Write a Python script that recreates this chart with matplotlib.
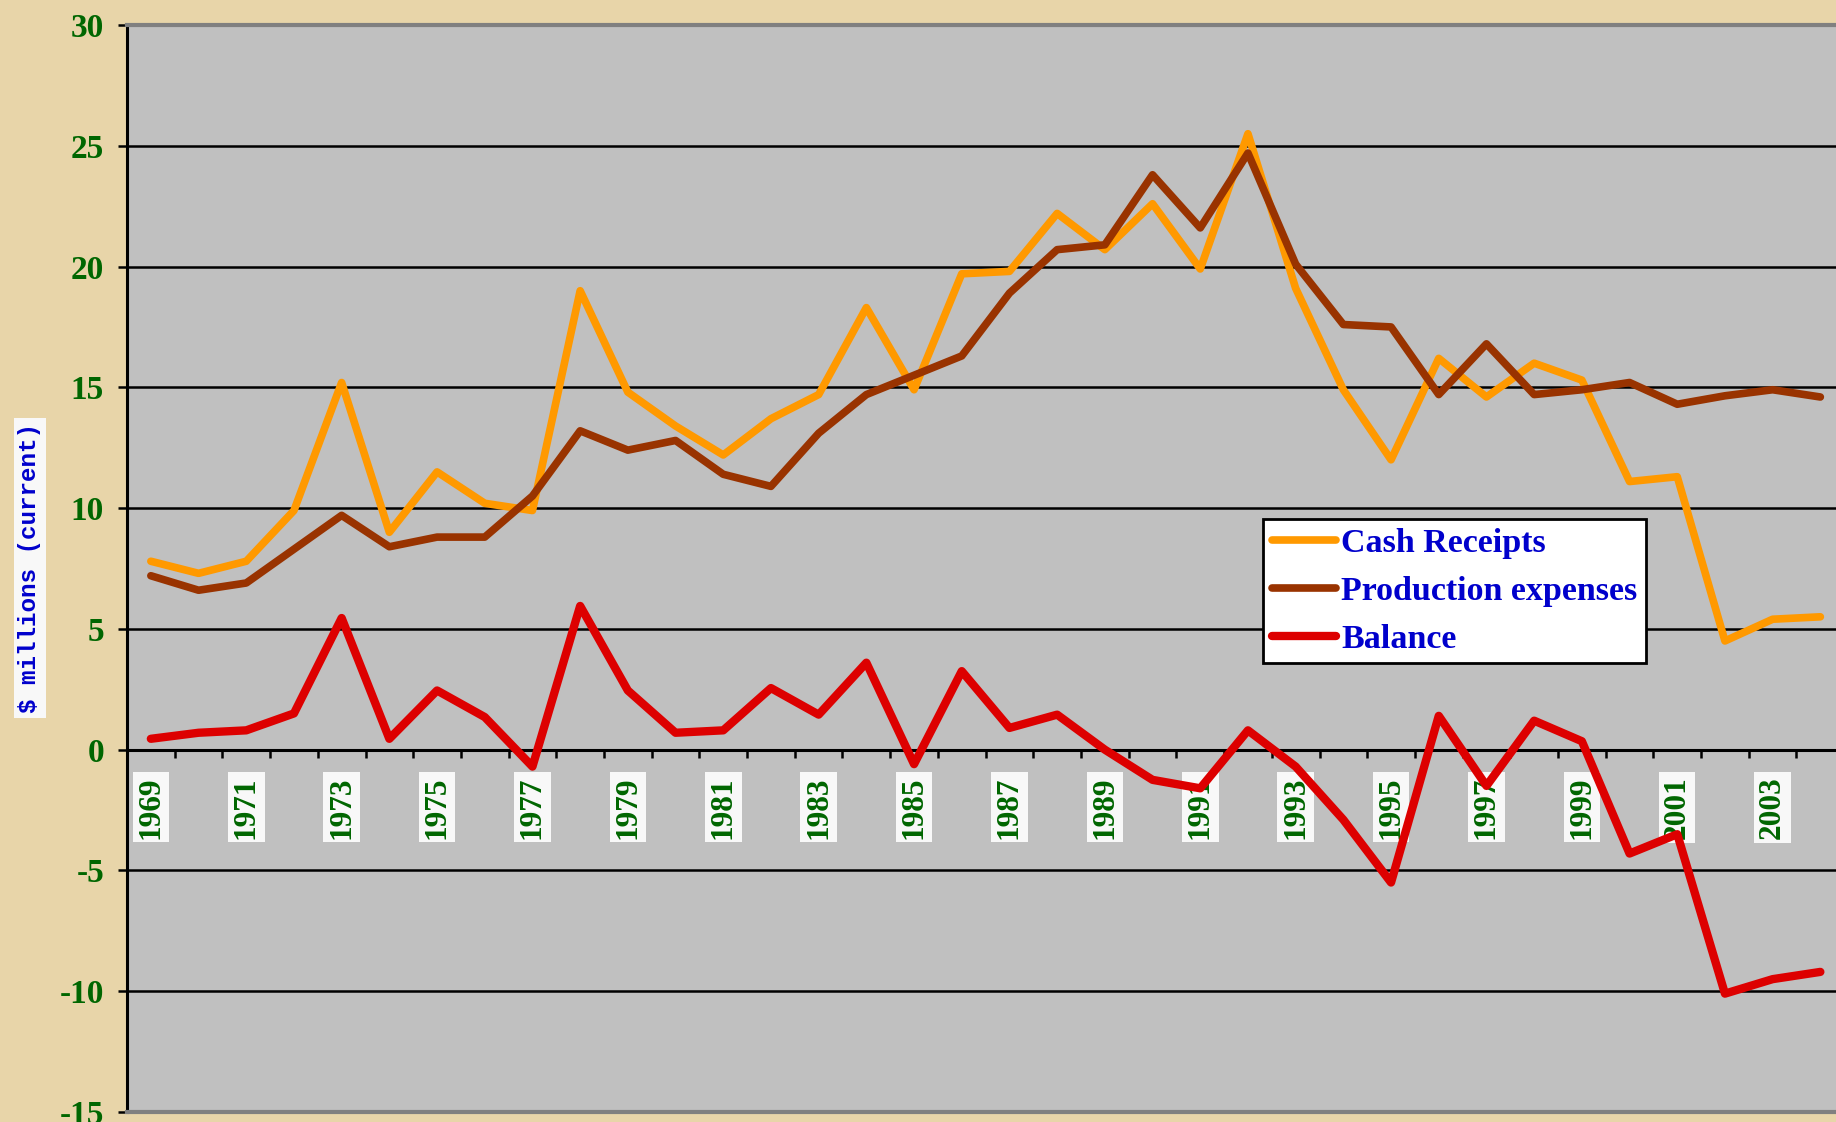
import matplotlib
import numpy as np

matplotlib.use("Agg")
import matplotlib.pyplot as plt  # noqa: E402
from matplotlib.lines import Line2D  # noqa: E402

# dados ($ milhões, valores correntes)
years = list(range(1969, 2005))
cash_receipts = [
    7.8, 7.3, 7.8, 9.9, 15.2, 9.0, 11.5, 10.2, 9.9, 19.0,
    14.8, 13.4, 12.2, 13.7, 14.7, 18.3, 14.9, 19.7, 19.8, 22.2,
    20.7, 22.6, 19.9, 25.5, 19.1, 14.9, 12.0, 16.2, 14.6, 16.0,
    15.3, 11.1, 11.3, 4.5, 5.4, 5.5,
]
production_expenses = [
    7.2, 6.6, 6.9, 8.3, 9.7, 8.4, 8.8, 8.8, 10.5, 13.2,
    12.4, 12.8, 11.4, 10.9, 13.1, 14.7, 15.5, 16.3, 18.9, 20.7,
    20.9, 23.8, 21.6, 24.7, 20.1, 17.6, 17.5, 14.7, 16.8, 14.7,
    14.9, 15.2, 14.3, 14.65, 14.9, 14.6,
]
balance = [
    0.45, 0.7, 0.8, 1.5, 5.45, 0.45, 2.45, 1.35, -0.7, 5.95,
    2.45, 0.7, 0.8, 2.55, 1.45, 3.6, -0.6, 3.25, 0.9, 1.45,
    0.0, -1.25, -1.6, 0.8, -0.7, -2.9, -5.5, 1.4, -1.5, 1.2,
    0.35, -4.3, -3.5, -10.1, -9.5, -9.2,
]
series_names = ["Cash Receipts", "Production expenses", "Balance"]
series_colors = ["#FF9900", "#993300", "#DD0000"]
y_ticks = list(range(-15, 35, 5))

BG = "#E8D5A9"
GREEN = "#006600"
BLUE = "#0000CC"
SERIF = "Liberation Serif"

fig = plt.figure(figsize=(18.36, 11.22), dpi=100, facecolor=BG)
n = len(years)
ax = fig.add_axes([127 / 1836, 10 / 1122, n * 47.7 / 1836, 1087 / 1122])
ax.set_facecolor("#C0C0C0")

x = np.arange(n) + 0.5
linhas = []
for valores, cor, lw in zip(
    [cash_receipts, production_expenses, balance], series_colors, [5.5, 5.5, 6.0]
):
    (ln,) = ax.plot(x, valores, color=cor, lw=lw, solid_joinstyle="round",
                    solid_capstyle="round", zorder=3)
    linhas.append(ln)

ax.set_xlim(0, n)
ax.set_ylim(-15, 30)

# eixo y
ax.set_yticks(y_ticks)
ax.set_yticklabels([str(v) for v in y_ticks], fontfamily=SERIF, fontweight="bold",
                   fontsize=24, color=GREEN)
ax.tick_params(axis="y", direction="out", length=6.5, width=1.8, color="black", pad=10)
ax.grid(axis="y", color="black", lw=1.8, zorder=1)

# eixo x (categorias) cruzando em zero
ax.spines["bottom"].set_position(("data", 0))
ax.spines["bottom"].set_linewidth(2.2)
ax.spines["left"].set_linewidth(2.2)
ax.spines["top"].set_color("#808080")
ax.spines["top"].set_linewidth(3)
ax.spines["right"].set_visible(False)
ax.add_line(Line2D([0, 1], [0, 0], transform=ax.transAxes, color="#808080", lw=3,
                   clip_on=False, zorder=4))

ax.set_xticks(np.arange(n + 1))
ax.set_xticklabels([])
ax.tick_params(axis="x", which="major", direction="out", length=6, width=1.8, color="black")
ax.set_xticks(x[::2], minor=True)
ax.set_xticklabels([str(a) for a in years[::2]], minor=True, rotation=90,
                   fontfamily=SERIF, fontweight="bold", fontsize=22.5, color=GREEN,
                   va="top", ha="center")
ax.tick_params(axis="x", which="minor", length=0, pad=19)
for lbl in ax.get_xticklabels(minor=True):
    lbl.set_bbox(dict(boxstyle="square,pad=0.12", facecolor="#F8F8F8", edgecolor="none"))

# rótulo do eixo y
fig.text(30 / 1836, 1 - 568 / 1122, "$ millions (current)", rotation=90,
         ha="center", va="center", fontfamily="Liberation Mono", fontweight="bold",
         fontsize=17.5, color=BLUE,
         bbox=dict(boxstyle="square,pad=0.2", facecolor="#F8F8F8", edgecolor="none"))

leg = ax.legend(linhas, series_names, loc="upper left",
                bbox_to_anchor=(1263 / 1836, 1 - 519 / 1122),
                bbox_transform=fig.transFigure, frameon=True, fancybox=False,
                prop=dict(family=SERIF, weight="bold", size=24.5),
                handlelength=1.9, handletextpad=0.15, labelspacing=0.5,
                borderpad=0.25, borderaxespad=0)
leg.get_frame().set_edgecolor("black")
leg.get_frame().set_linewidth(2)
leg.get_frame().set_facecolor("white")
leg.get_frame().set_alpha(1)
for txt in leg.get_texts():
    txt.set_color(BLUE)

fig.savefig("out.png", dpi=100, facecolor=BG)
